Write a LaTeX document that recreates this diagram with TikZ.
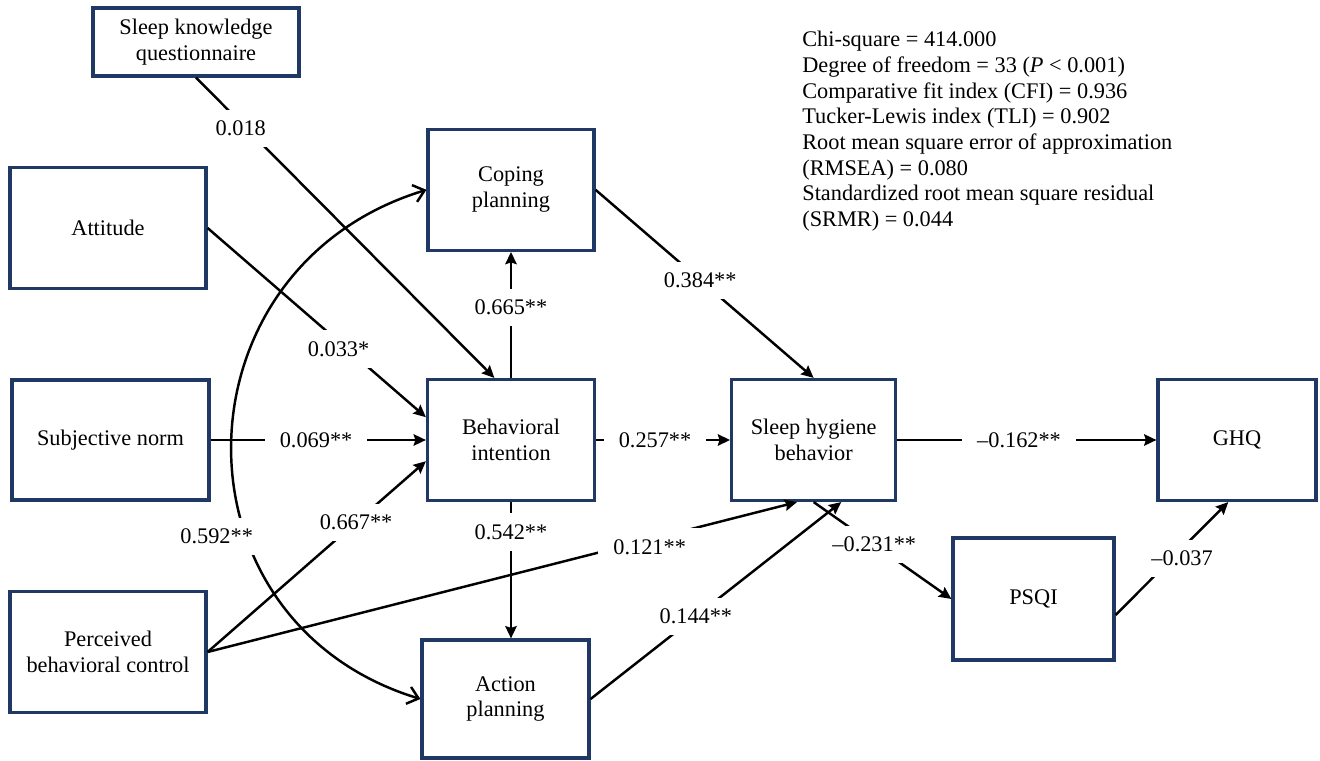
\documentclass[tikz,border=0pt]{standalone}
\usepackage{fontspec}
\setmainfont{Liberation Serif}
\usepackage{tikz}
\usetikzlibrary{positioning, calc, arrows.meta}
\definecolor{boxblue}{RGB}{31,56,100}

\begin{document}
\begin{tikzpicture}[node distance=2.7cm,>={Stealth[length=7pt,width=6.5pt,inset=1pt]},
    font=\fontsize{12.7}{14.6}\selectfont,
    box/.style={draw=boxblue, line width=1.8pt, align=center, inner sep=2pt,
      minimum width=3.3cm, minimum height=2.42cm},
    coef/.style={fill=white, anchor=center, inner xsep=0.3cm, inner ysep=0.22cm},
    link/.style={line width=1.4pt},
    corr/.style={link, {Straight Barb[length=6pt,width=10pt]}-{Straight Barb[length=6pt,width=10pt]}}]
      \useasboundingbox (0,0) rectangle (26.4,-15.22);

      \node[box, minimum width=4.12cm, minimum height=1.36cm] (knowledge) at (3.92,-0.84) {Sleep knowledge\\questionnaire};
      \node[box, minimum width=3.92cm] (attitude) at (2.16,-4.56) {Attitude};
      \node[box, minimum width=3.94cm, minimum height=2.40cm] (norm) at (2.21,-8.80) {Subjective norm};
      \node[box, minimum width=3.92cm] (control) at (2.16,-13.04) {Perceived\\behavioral control};
      \node[box, minimum width=3.34cm] (intention) at (10.22,-8.80) {Behavioral\\intention};
      \node[box, minimum width=3.32cm, above=2.52cm of intention] (coping) {Coping\\planning};
      \node[box, minimum width=3.34cm, minimum height=2.36cm] (action) at (10.11,-13.98) {Action\\planning};
      \node[box, minimum width=3.28cm, right=2.68cm of intention] (hygiene) {Sleep hygiene\\behavior};
      \node[box, minimum width=3.16cm] (ghq) at (24.74,-8.80) {GHQ};
      \node[box, minimum width=3.22cm, minimum height=2.44cm] (psqi) at (20.67,-11.98) {PSQI};
      %
      \node[anchor=north west, align=left, inner sep=0pt] (fit) at (16.04,-0.62)
        {Chi-square = 414.000\\
         Degree of freedom = 33 (\textit{P} < 0.001)\\
         Comparative fit index (CFI) = 0.936\\
         Tucker-Lewis index (TLI) = 0.902\\
         Root mean square error of approximation\\
         (RMSEA) = 0.080\\
         Standardized root mean square residual\\
         (SRMR) = 0.044};

      \draw[link,->] (knowledge.south)
      -- node[coef,pos=0.15,yshift=-0.12cm]{0.018}
      (intention.105);
      \draw[link,->] (attitude.east)
      -- node[coef,pos=0.6,yshift=-0.15cm]{0.033*}
      (intention.165);
      \draw[link,->] (norm.east)
      -- node[coef,pos=0.49]{0.069**}
      (intention.west);
      \draw[link,->] (control.east)
      -- node[coef,pos=0.68]{0.667**}
      (intention.194);
      \draw[link,->] (control.east)
      -- node[coef,pos=0.75,yshift=-0.15cm]{0.121**}
      (hygiene.255);

      \draw[link,->] (intention.north)
      -- node[coef,pos=0.56]{0.665**}
      (coping.south);
      \draw[link,->] (intention.south)
      -- node[coef,pos=0.22]{0.542**}
      (intention.south |- action.north);
      \draw[link,->] (intention.east)
      -- node[coef,pos=0.44]{0.257**}
      (hygiene.west);
      \draw[link,->] (coping.east)
      -- node[coef,pos=0.48]{0.384**}
      (hygiene.north);
      \draw[link,->] (action.east)
      -- node[coef,pos=0.42]{0.144**}
      (hygiene.-66);

      \draw[link,->] (hygiene.south)
      -- node[coef,pos=0.44]{--0.231**}
      (psqi.west);
      \draw[link,->] (hygiene.east)
      -- node[coef,pos=0.47]{--0.162**}
      (ghq.west);
      \draw[link,->] (psqi.-11)
      -- node[coef,pos=0.59,yshift=-0.2cm]{--0.037}
      (ghq.262);

      \draw[corr] (coping.west)
      to[out=197,in=163,looseness=1.34] node[coef,pos=0.645,xshift=-0.6cm]{0.592**}
      (action.west);
  \end{tikzpicture}
\end{document}
